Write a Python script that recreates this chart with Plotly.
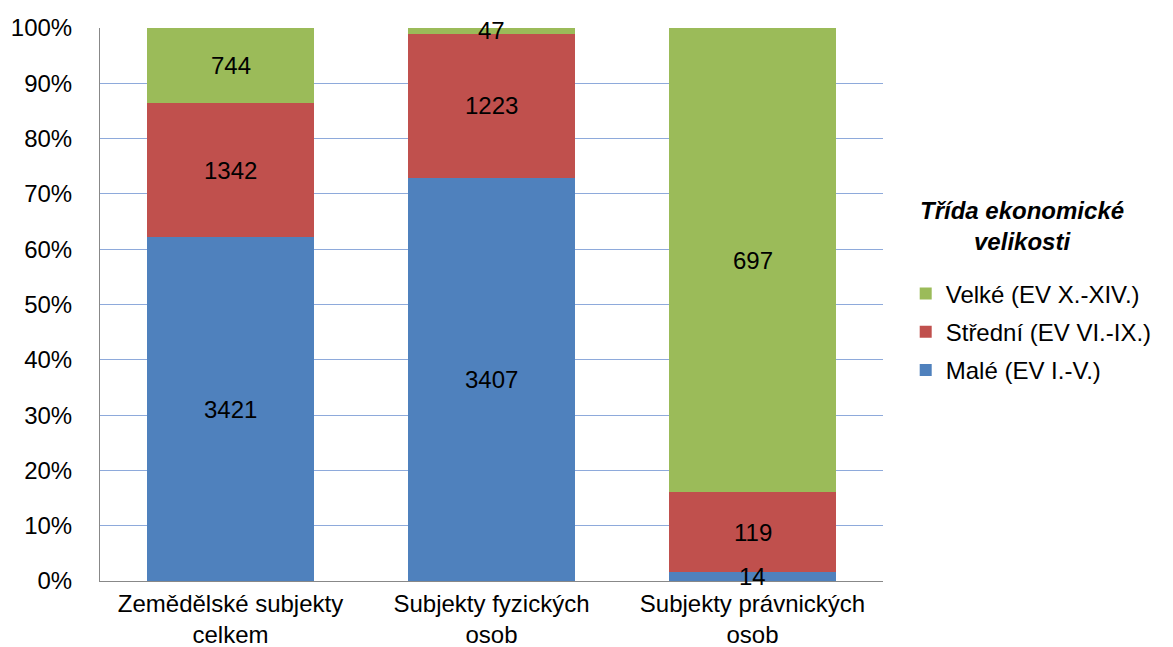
import plotly.graph_objects as go

categories = ["Zemědělské subjekty<br>celkem", "Subjekty fyzických<br>osob", "Subjekty právnických<br>osob"]
male = [3421, 3407, 14]
stredni = [1342, 1223, 119]
velke = [744, 47, 697]
series_names = ["Malé (EV I.-V.)", "Střední (EV VI.-IX.)", "Velké (EV X.-XIV.)"]
colors = ["#4F81BD", "#C0504D", "#9BBB59"]
y_ticks = list(range(0, 101, 10))
y_tick_labels = [f"{t}%" for t in y_ticks]
legend_title = "Třída ekonomické<br>velikosti"

FONT = "Liberation Sans, Arial, sans-serif"
FS = 24

series = [male, stredni, velke]
totals = [sum(s[i] for s in series) for i in range(len(categories))]

fig = go.Figure()
for i, (name, vals, col) in enumerate(zip(series_names, series, colors)):
    fig.add_trace(go.Bar(
        x=categories, y=vals, name=name,
        marker=dict(color=col, line=dict(width=0)),
        legendgroup=f"g{i}", legendrank=len(series) - i,
        hoverinfo="name+y",
    ))

# data labels centred in each stacked segment (positions from the data)
annotations = []
for ci, cat in enumerate(categories):
    base = 0.0
    for vals in series:
        pct = vals[ci] / totals[ci] * 100
        annotations.append(dict(
            x=cat, y=base + pct / 2, xref="x", yref="y",
            text=str(vals[ci]), showarrow=False,
            xanchor="center", yanchor="middle",
            font=dict(family=FONT, size=FS, color="black"),
        ))
        base += pct

annotations.append(dict(
    text=f"<b><i>{legend_title}</i></b>",
    xref="paper", yref="paper",
    x=(1022 - 100) / 783, y=1 - (226 - 28) / 553,
    xanchor="center", yanchor="middle",
    showarrow=False, align="center",
    font=dict(family=FONT, size=FS, color="black"),
))

fig.update_layout(
    width=1173, height=647,
    barmode="stack", barnorm="percent", bargap=0.36,
    plot_bgcolor="white", paper_bgcolor="white",
    margin=dict(l=100, r=290, t=28, b=66, autoexpand=False),
    font=dict(family=FONT, size=FS, color="black"),
    showlegend=True,
    legend=dict(
        x=1.029, xanchor="left", y=1 - (332 - 28) / 553, yanchor="middle",
        traceorder="grouped", tracegroupgap=4,
        font=dict(family=FONT, size=FS, color="black"),
        itemwidth=30,
    ),
    annotations=annotations,
)

fig.update_yaxes(
    range=[0, 100], tickvals=y_ticks, ticktext=y_tick_labels,
    showgrid=True, gridcolor="#8EAADB", gridwidth=1,
    showline=True, linecolor="#888888", linewidth=1,
    zeroline=False, ticks="", ticklabelstandoff=22, automargin=False,
    tickfont=dict(family=FONT, size=FS, color="black"),
)
fig.update_xaxes(
    showline=True, linecolor="#888888", linewidth=1,
    ticks="", ticklabelstandoff=1, automargin=False,
    tickfont=dict(family=FONT, size=FS, color="black"),
)

# remove the default 8px page margin so the figure fills the window exactly
fig.write_html(
    "out.html",
    config={"displayModeBar": False},
    post_script="document.body.style.margin='0';document.body.style.overflow='hidden';",
)
